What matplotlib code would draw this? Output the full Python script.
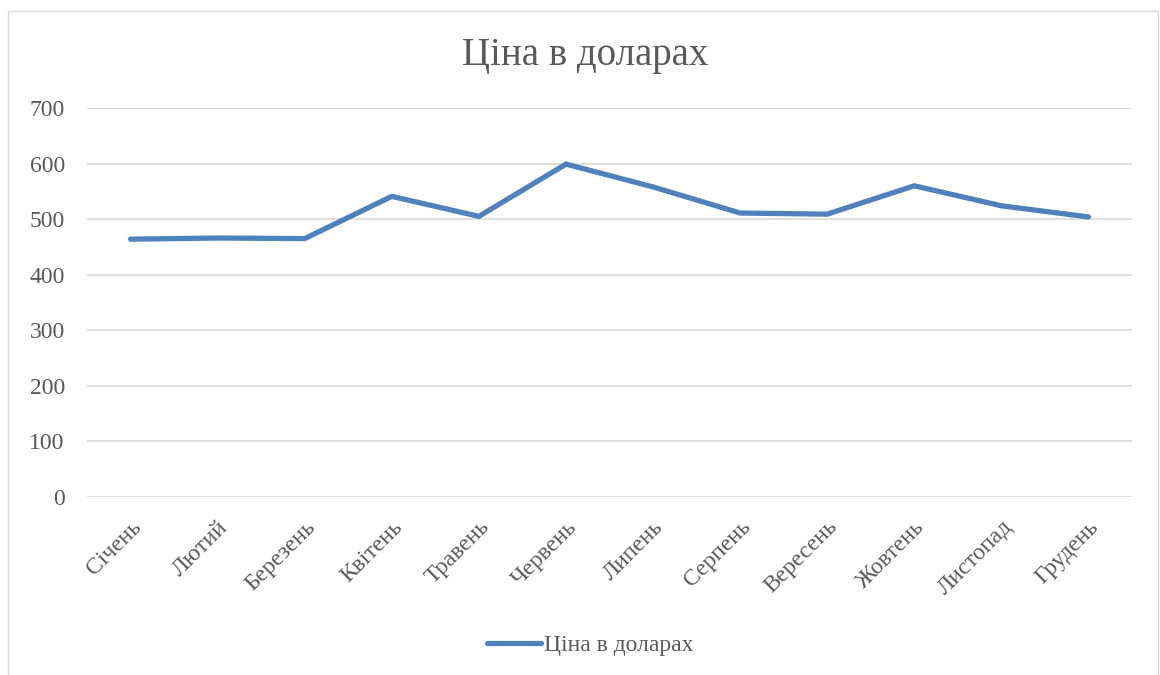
import matplotlib.pyplot as plt
from matplotlib.patches import Rectangle

months = ['Січень', 'Лютий', 'Березень', 'Квітень', 'Травень', 'Червень',
          'Липень', 'Серпень', 'Вересень', 'Жовтень', 'Листопад', 'Грудень']
price = [464, 466, 465, 541, 505, 599, 558, 511, 509, 560, 524, 504]
yticks = [0, 100, 200, 300, 400, 500, 600, 700]

plt.rcParams['font.family'] = ['Liberation Serif', 'DejaVu Serif']
text_col = '#595959'

fig = plt.figure(figsize=(11.6, 6.75), dpi=100)
fig.patches.append(Rectangle((8 / 1160, -0.01), 1150 / 1160, 1 - 11 / 675 + 0.01,
                             transform=fig.transFigure, fill=False,
                             edgecolor='#d9d9d9', linewidth=1))

ax = fig.add_axes([87 / 1160, 1 - 497 / 675, 1045 / 1160, 389 / 675])
x = list(range(len(months)))
ax.plot(x, price, color='#4f81bd', linewidth=3.8, solid_capstyle='round',
        solid_joinstyle='miter', label='Ціна в доларах', zorder=3)

ax.set_xlim(-0.5, len(months) - 0.5)
ax.set_ylim(0, 700)
ax.set_yticks(yticks)
ax.set_xticks(x)
ax.set_xticklabels(months, rotation=45, ha='right', rotation_mode='anchor')
ax.grid(axis='y', color='#d9d9d9', linewidth=1.2)
ax.set_axisbelow(True)
for s in ax.spines.values():
    s.set_visible(False)
ax.tick_params(length=0, labelsize=17, colors=text_col)
ax.tick_params(axis='y', pad=16)
ax.tick_params(axis='x', pad=14)

fig.text(585 / 1160, 1 - 55 / 675, 'Ціна в доларах', ha='center', va='center',
         fontsize=28, color=text_col)

leg = fig.legend(loc='center', bbox_to_anchor=(590 / 1160, 1 - 645 / 675),
                 frameon=False, fontsize=17, handlelength=2.3, handletextpad=0.1)
for t in leg.get_texts():
    t.set_color(text_col)

fig.savefig('out.png', dpi=100)
